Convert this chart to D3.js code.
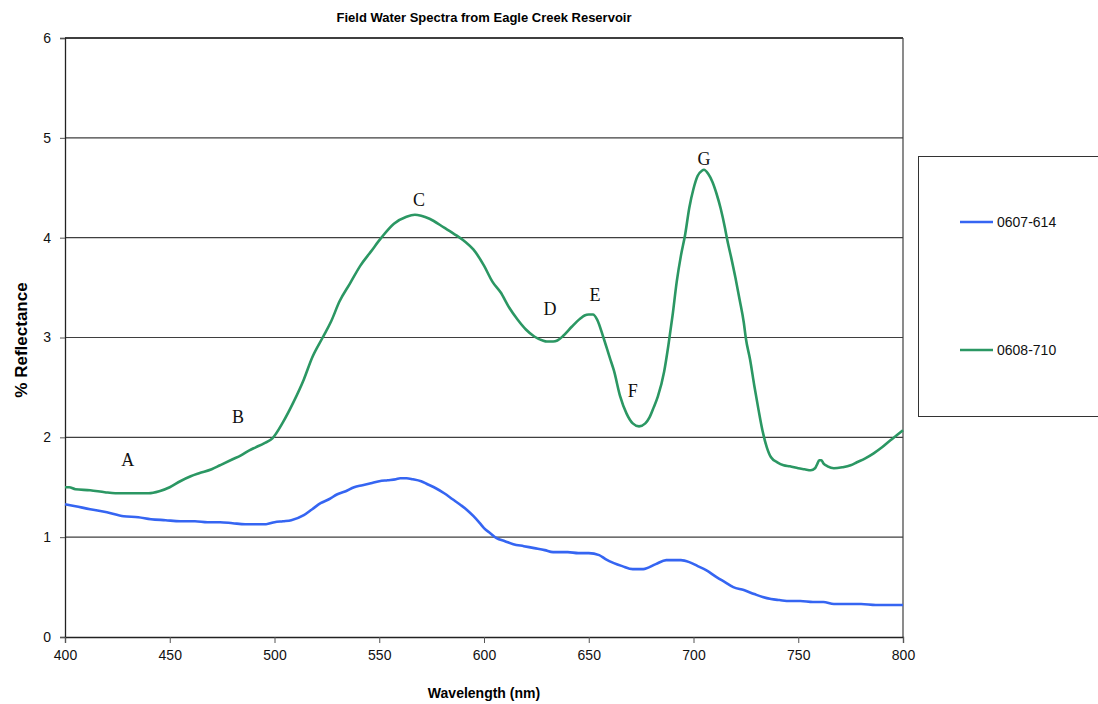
<!DOCTYPE html>
<html><head><meta charset="utf-8">
<script src="https://cdn.jsdelivr.net/npm/d3@7"></script>
<style>body{margin:0;background:#fff}svg{display:block}</style>
</head><body>
<svg id="chart" width="1098" height="704"></svg>
<script>
const wl614 = [400,405,412,420,428,435,441,448,455,462,468,474,480,486,492,496,500,504,508,514,518,522,526,530,534,538,542,546,550,554,558,560,563,566,570,573,577,581,585,589,592,595,598,600,603,606,610,614,619,624,629,633,640,645,650,655,658,662,666,671,676,682,687,690,694,698,702,706,711,715,719,724,729,733,737,741,746,751,757,760,762,767,772,780,787,795,800];
const r614 = [1.33,1.31,1.28,1.25,1.21,1.20,1.18,1.17,1.16,1.16,1.15,1.15,1.14,1.13,1.13,1.13,1.15,1.16,1.17,1.22,1.28,1.34,1.38,1.43,1.46,1.50,1.52,1.54,1.56,1.57,1.58,1.59,1.59,1.58,1.56,1.53,1.49,1.44,1.38,1.32,1.27,1.21,1.14,1.09,1.04,0.99,0.96,0.93,0.91,0.89,0.87,0.85,0.85,0.84,0.84,0.82,0.78,0.74,0.71,0.68,0.68,0.73,0.77,0.77,0.77,0.75,0.71,0.67,0.60,0.55,0.50,0.47,0.43,0.40,0.38,0.37,0.36,0.36,0.35,0.35,0.35,0.33,0.33,0.33,0.32,0.32,0.32];

const wl710 = [400,402,405,412,419,424,431,436,440,445,450,455,460,464,470,474,480,484,488,491,495,499,504,509,514,518,523,527,531,536,541,546,551,557,563,567,570,574,581,587,591,595,600,604,608,612,616,620,624,628,630,633,635,638,642,646,648,650,652,654,657,660,662,665,668,671,674,677,679,681,683,686,688,690,692,694,696,698,700,702,704,705,707,709,711,713,715,716,718,720,722,724,725,727,729,731,733,735,737,740,743,746,750,753,756,758,759,760,761,762,764,767,771,775,778,782,786,790,794,797,800];
const r710 = [1.50,1.50,1.48,1.47,1.45,1.44,1.44,1.44,1.44,1.46,1.50,1.56,1.61,1.64,1.68,1.72,1.78,1.82,1.87,1.90,1.94,1.99,2.15,2.35,2.58,2.80,3.00,3.16,3.36,3.54,3.72,3.86,4.00,4.14,4.21,4.23,4.22,4.19,4.10,4.02,3.96,3.88,3.72,3.56,3.45,3.30,3.18,3.08,3.01,2.97,2.96,2.96,2.97,3.02,3.11,3.19,3.22,3.23,3.23,3.18,3.00,2.80,2.67,2.41,2.24,2.14,2.11,2.14,2.20,2.30,2.41,2.66,2.92,3.22,3.56,3.82,4.03,4.30,4.49,4.62,4.67,4.68,4.64,4.56,4.44,4.29,4.10,3.99,3.80,3.60,3.38,3.15,2.99,2.78,2.52,2.28,2.06,1.90,1.80,1.75,1.72,1.71,1.69,1.68,1.67,1.69,1.73,1.77,1.77,1.74,1.71,1.69,1.70,1.72,1.75,1.79,1.84,1.90,1.97,2.02,2.07];

const markLabels = ["A","B","C","D","E","F","G"];
const markX = [430,482.6,569,631.5,653,671,705];
const markY = [1.75,2.18,4.36,3.27,3.41,2.45,4.77];

const seriesNames = ["0607-614","0608-710"];
const xTicks = [400,450,500,550,600,650,700,750,800];
const yTicks = [0,1,2,3,4,5,6];

const colors = ["#3565f2","#2b9763"];
const svg = d3.select("#chart");
const x = d3.scaleLinear().domain([400,800]).range([65,903]);
const y = d3.scaleLinear().domain([0,6]).range([637,38]);
const tickFont = "'Liberation Sans', Arial, sans-serif";

// gridlines
svg.append("g").selectAll("line").data(yTicks.filter(d=>d>0)).join("line")
  .attr("x1",x(400)).attr("x2",x(800)).attr("y1",d=>y(d)).attr("y2",d=>y(d))
  .attr("stroke","#3f3f3f").attr("stroke-width",1.2);
// right / top border
svg.append("line").attr("x1",x(800)).attr("x2",x(800)).attr("y1",y(6)).attr("y2",y(0))
  .attr("stroke","#3f3f3f").attr("stroke-width",1.2);
svg.append("line").attr("x1",x(400)).attr("x2",x(800)).attr("y1",y(6)).attr("y2",y(6))
  .attr("stroke","#3f3f3f").attr("stroke-width",2);

// axes
const yAxis = svg.append("g").attr("transform",`translate(${x(400)},0)`)
  .call(d3.axisLeft(y).tickValues(yTicks).tickSize(5).tickFormat(d3.format("d")));
const xAxis = svg.append("g").attr("transform",`translate(0,${y(0)})`)
  .call(d3.axisBottom(x).tickValues(xTicks).tickSize(6).tickFormat(d3.format("d")));
[yAxis,xAxis].forEach(g=>{
  g.select(".domain").attr("stroke","#222").attr("stroke-width",1.3);
  g.selectAll(".tick line").attr("stroke","#555");
  g.selectAll("text").attr("font-family",tickFont).attr("font-size",14).attr("fill","#111");
});
yAxis.selectAll("text").attr("dx",-6);
xAxis.selectAll("text").attr("dy",14);

// lines
const line = d3.line().x(d=>x(d[0])).y(d=>y(d[1])).curve(d3.curveMonotoneX);
const datasets = [d3.zip(wl614,r614), d3.zip(wl710,r710)];
svg.append("g").selectAll("path").data(datasets).join("path")
  .attr("d",line).attr("fill","none")
  .attr("stroke",(d,i)=>colors[i]).attr("stroke-width",2.6)
  .attr("stroke-linejoin","round");

// letter labels
svg.append("g").selectAll("text").data(markLabels).join("text")
  .attr("x",(d,i)=>x(markX[i])).attr("y",(d,i)=>y(markY[i]))
  .attr("text-anchor","middle").attr("dominant-baseline","middle")
  .attr("font-family","'Liberation Serif','Times New Roman',serif").attr("font-size",18)
  .attr("fill","#111").text(d=>d);

// title & axis titles
svg.append("text").attr("x",484).attr("y",22).attr("text-anchor","middle")
  .attr("font-family",tickFont).attr("font-weight","bold").attr("font-size",13)
  .text("Field Water Spectra from Eagle Creek Reservoir");
svg.append("text").attr("x",484).attr("y",698).attr("text-anchor","middle")
  .attr("font-family",tickFont).attr("font-weight","bold").attr("font-size",14)
  .text("Wavelength (nm)");
svg.append("text").attr("transform","translate(27,340) rotate(-90)").attr("text-anchor","middle")
  .attr("font-family",tickFont).attr("font-weight","bold").attr("font-size",17)
  .text("% Reflectance");

// legend
svg.append("rect").attr("x",918.5).attr("y",156.5).attr("width",200).attr("height",260)
  .attr("fill","none").attr("stroke","#333").attr("stroke-width",1);
const legY = [222,350];
const lg = svg.append("g").selectAll("g").data(seriesNames).join("g")
  .attr("transform",(d,i)=>`translate(960,${legY[i]})`);
lg.append("line").attr("x1",0).attr("x2",33).attr("stroke",(d,i)=>colors[i]).attr("stroke-width",2.6);
lg.append("text").attr("x",37).attr("dy","0.35em").attr("font-family",tickFont)
  .attr("font-size",14).attr("fill","#111").text(d=>d);
</script>
</body></html>
